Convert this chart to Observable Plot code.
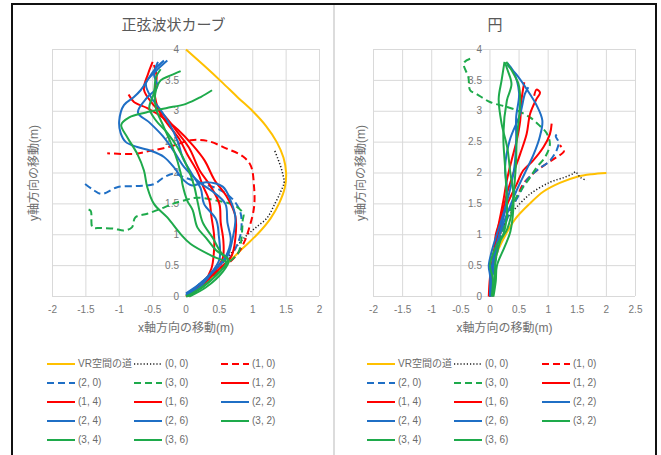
<!DOCTYPE html>
<html>
<head>
<meta charset="utf-8">
<script src="https://cdn.jsdelivr.net/npm/d3@7"></script>
<script src="https://cdn.jsdelivr.net/npm/@observablehq/plot@0.6"></script>
<style>
html,body{margin:0;padding:0;background:#fff;}
body{position:relative;width:661px;height:455px;overflow:hidden;font-family:"Liberation Sans","Noto Sans CJK JP",sans-serif;color:#6b6b6b;}
.frame{position:absolute;left:11px;top:3px;width:646px;height:470px;border:2px solid #111;border-bottom:none;box-sizing:border-box;}
.divider{position:absolute;left:333px;top:5px;width:2px;height:460px;background:#dcdcdc;}
.title{position:absolute;top:13px;height:22px;line-height:22px;text-align:center;font-size:15px;color:#595959;font-family:"Noto Sans CJK JP",sans-serif;}
.chart{position:absolute;top:36px;}
.item{position:absolute;height:14px;line-height:14px;font-size:10px;white-space:nowrap;display:flex;align-items:center;color:#6b6b6b;}
.item svg{margin-right:3px;display:block;}
</style>
</head>
<body>
<div class="frame"></div>
<div class="divider"></div>
<div class="title" style="left:14px;width:319px">正弦波状カーブ</div>
<div class="title" style="left:335px;width:320px">円</div>
<div class="chart" id="c1" style="left:14px"></div>
<div class="chart" id="c2" style="left:335px"></div>
<div id="lg1"></div>
<div id="lg2"></div>
<script>
// ---------- series / legend ----------
const seriesNames = ["VR空間の道","(0, 0)","(1, 0)","(2, 0)","(3, 0)","(1, 2)","(1, 4)","(1, 6)","(2, 2)","(2, 4)","(2, 6)","(3, 2)","(3, 4)","(3, 6)"];
const seriesColors = ["#FFC000","#1a1a1a","#FF0000","#1F6FC5","#1EAA4B","#FF0000","#FF0000","#FF0000","#1F6FC5","#1F6FC5","#1F6FC5","#1EAA4B","#1EAA4B","#1EAA4B"];
const seriesDash = ["solid","dot","dash","dash","dash","solid","solid","solid","solid","solid","solid","solid","solid","solid"];

// ---------- ticks ----------
const yTicks = [0,0.5,1,1.5,2,2.5,3,3.5,4];
const sineXTicks = [-2,-1.5,-1,-0.5,0,0.5,1,1.5,2];
const circleXTicks = [-2,-1.5,-1,-0.5,0,0.5,1,1.5,2,2.5];

// ---------- 正弦波状カーブ ----------
const sineVR = [[0,0],[0.3,0.25],[0.6,0.52],[0.85,0.78],[1.08,1.02],[1.27,1.27],[1.4,1.52],[1.48,1.76],[1.5,2.0],[1.46,2.25],[1.36,2.5],[1.2,2.76],[1.0,3.0],[0.78,3.22],[0.53,3.48],[0.27,3.74],[0,4]];
const sine00 = [[0.02,0.02],[0.3,0.3],[0.58,0.58],[0.75,0.8],[0.9,0.98],[1.05,1.12],[1.22,1.28],[1.33,1.5],[1.42,1.7],[1.47,1.85],[1.45,1.98],[1.42,2.1],[1.38,2.22],[1.33,2.36]];
const sine10 = [[0.02,0],[0.3,0.25],[0.6,0.5],[0.78,0.7],[0.88,0.9],[0.95,1.12],[1.02,1.45],[1.02,1.77],[0.97,2.12],[0.85,2.27],[0.6,2.4],[0.32,2.52],[0.07,2.53],[-0.23,2.43],[-0.53,2.36],[-0.78,2.31],[-1.18,2.32]];
const sine20 = [[0,0.02],[0.3,0.28],[0.6,0.55],[0.75,0.8],[0.82,1.02],[0.82,1.34],[0.72,1.55],[0.52,1.72],[0.22,1.84],[-0.03,1.93],[-0.18,1.99],[-0.33,1.93],[-0.48,1.82],[-0.73,1.79],[-1.03,1.77],[-1.26,1.66],[-1.38,1.72],[-1.52,1.83]];
const sine30 = [[0.02,0],[0.3,0.25],[0.6,0.52],[0.78,0.7],[0.82,0.85],[0.84,1.05],[0.85,1.24],[0.86,1.34],[0.72,1.48],[0.47,1.55],[0.17,1.6],[-0.05,1.55],[-0.2,1.5],[-0.38,1.42],[-0.58,1.34],[-0.76,1.28],[-0.81,1.12],[-0.93,1.07],[-1.08,1.1],[-1.28,1.11],[-1.4,1.12],[-1.43,1.39],[-1.51,1.42]];
const sine12 = [[0,0],[0.25,0.2],[0.5,0.45],[0.68,0.65],[0.74,0.95],[0.74,1.3],[0.62,1.6],[0.42,1.9],[0.28,2.2],[0.1,2.45],[-0.12,2.7],[-0.35,2.9],[-0.58,3.05],[-0.78,3.15],[-0.86,3.27]];
const sine14 = [[0.02,0],[0.22,0.15],[0.42,0.4],[0.55,0.62],[0.56,0.9],[0.52,1.2],[0.5,1.5],[0.36,1.8],[0.2,2.05],[0.05,2.4],[-0.12,2.65],[-0.3,2.9],[-0.5,3.12],[-0.63,3.35],[-0.57,3.6],[-0.5,3.8]];
const sine16 = [[0.05,0],[0.25,0.2],[0.38,0.45],[0.42,0.75],[0.42,1.0],[0.38,1.3],[0.35,1.55],[0.25,1.8],[0.18,2.0],[0.02,2.3],[-0.1,2.55],[-0.28,2.8],[-0.4,3.0],[-0.47,3.3],[-0.44,3.55],[-0.48,3.75]];
const sine22 = [[0,0.05],[0.2,0.2],[0.45,0.45],[0.62,0.65],[0.7,0.95],[0.74,1.28],[0.67,1.55],[0.55,1.78],[0.3,1.85],[0.08,1.8],[-0.03,1.88],[-0.18,2.09],[-0.33,2.26],[-0.53,2.36],[-0.73,2.42],[-0.9,2.5],[-0.98,2.65],[-1.0,2.85],[-0.93,3.1],[-0.78,3.23],[-0.68,3.34],[-0.55,3.55],[-0.45,3.7],[-0.33,3.82]];
const sine24 = [[0.02,0],[0.15,0.15],[0.35,0.35],[0.5,0.6],[0.49,1.0],[0.45,1.25],[0.27,1.5],[0.22,1.75],[0.08,2.0],[-0.05,2.25],[-0.12,2.5],[-0.25,2.8],[-0.4,3.05],[-0.52,3.22],[-0.6,3.45],[-0.45,3.65],[-0.28,3.82]];
const sine26 = [[0,0.03],[0.2,0.15],[0.4,0.4],[0.58,0.62],[0.67,0.9],[0.62,1.2],[0.59,1.5],[0.4,1.7],[0.2,1.85],[-0.03,2.1],[-0.18,2.35],[-0.35,2.6],[-0.55,2.82],[-0.72,2.98],[-0.6,3.2],[-0.43,3.4],[-0.48,3.6],[-0.42,3.8]];
const sine32 = [[0,0],[0.25,0.15],[0.5,0.4],[0.6,0.55],[0.42,0.64],[0.07,0.85],[-0.08,1.01],[-0.28,1.28],[-0.48,1.5],[-0.58,1.77],[-0.63,2.04],[-0.73,2.31],[-0.88,2.58],[-0.97,2.78],[-0.85,2.9],[-0.6,2.98],[-0.3,3.05],[0.0,3.12],[0.22,3.23],[0.39,3.34]];
const sine34 = [[0.02,0],[0.3,0.2],[0.55,0.45],[0.62,0.6],[0.45,0.75],[0.3,0.95],[0.17,1.12],[0.1,1.4],[0.02,1.55],[-0.05,1.8],[-0.08,2.0],[-0.18,2.36],[-0.33,2.74],[-0.45,3.05],[-0.46,3.29],[-0.38,3.5],[-0.23,3.58],[-0.08,3.65]];
const sine36 = [[0.05,0],[0.3,0.15],[0.55,0.4],[0.64,0.58],[0.52,0.72],[0.4,0.95],[0.25,1.2],[0.18,1.5],[0.12,1.8],[0.02,2.1],[-0.12,2.4],[-0.28,2.65],[-0.45,2.85],[-0.55,3.05],[-0.48,3.3],[-0.45,3.55],[-0.38,3.68]];

// ---------- 円 ----------
const circVR = [[0,0],[0.02,0.3],[0.06,0.5],[0.14,0.75],[0.27,1.0],[0.43,1.25],[0.68,1.5],[0.92,1.7],[1.2,1.84],[1.5,1.94],[1.75,1.98],[2.0,2.0]];
const circ00 = [[0,0],[0.06,0.5],[0.18,1.0],[0.32,1.3],[0.46,1.45],[0.69,1.66],[1.03,1.85],[1.28,1.93],[1.43,1.99],[1.47,2.02],[1.55,1.93],[1.66,1.88]];
const circ10 = [[0,0],[0.06,0.5],[0.18,1.0],[0.32,1.35],[0.46,1.6],[0.57,1.82],[0.74,1.99],[0.97,2.15],[1.15,2.26],[1.27,2.35],[1.2,2.45]];
const circ20 = [[0,0],[0.08,0.5],[0.2,1.0],[0.36,1.4],[0.5,1.65],[0.63,1.88],[0.8,2.04],[1.03,2.2],[1.15,2.38],[1.18,2.5],[1.13,2.6],[1.2,2.66]];
const circ30 = [[0,0],[0.05,0.5],[0.18,1.0],[0.32,1.35],[0.45,1.6],[0.57,1.77],[0.69,1.93],[0.8,2.09],[0.95,2.26],[1.03,2.47],[0.97,2.65],[0.86,2.76],[0.69,2.9],[0.45,3.02],[0.29,3.07],[0,3.15],[-0.23,3.28],[-0.34,3.34],[-0.37,3.55],[-0.45,3.78],[-0.34,3.85]];
const circ12 = [[0,0],[0.02,0.3],[0.08,0.6],[0.12,0.9],[0.2,1.2],[0.3,1.5],[0.46,1.82],[0.57,2.04],[0.74,2.2],[0.92,2.42],[1.03,2.63],[1.06,2.8]];
const circ14 = [[-0.02,0],[0,0.3],[0.06,0.69],[0.14,1.12],[0.23,1.55],[0.29,1.88],[0.37,2.2],[0.46,2.53],[0.52,2.85],[0.54,3.17],[0.59,3.47]];
const circ16 = [[0.05,0],[0.03,0.35],[0.08,0.7],[0.1,1.0],[0.2,1.3],[0.29,1.66],[0.4,1.99],[0.52,2.31],[0.63,2.63],[0.69,2.96],[0.8,3.2],[0.86,3.3],[0.8,3.35],[0.76,3.25]];
const circ22 = [[0,0],[0.02,0.4],[0.1,0.8],[0.2,1.1],[0.32,1.4],[0.45,1.7],[0.6,2.0],[0.75,2.3],[0.86,2.6],[0.9,2.85],[0.8,3.1],[0.63,3.36],[0.45,3.6],[0.3,3.75]];
const circ24 = [[0.02,0],[0.05,0.4],[0.12,0.8],[0.2,1.15],[0.28,1.5],[0.29,1.77],[0.26,2.09],[0.34,2.53],[0.52,2.96],[0.6,3.28],[0.66,3.39]];
const circ26 = [[0.03,0],[0,0.35],[-0.02,0.5],[0.05,0.8],[0.15,1.1],[0.25,1.4],[0.35,1.75],[0.42,2.1],[0.45,2.5],[0.45,2.9],[0.5,3.3],[0.4,3.65],[0.3,3.78]];
const circ32 = [[0.03,0],[0.05,0.3],[0,0.5],[0.1,0.8],[0.23,1.01],[0.29,1.3],[0.29,1.55],[0.26,2.09],[0.23,2.63],[0.29,3.17],[0.37,3.44],[0.29,3.7],[0.26,3.79]];
const circ34 = [[0.05,0],[0.08,0.3],[0.1,0.6],[0.18,0.9],[0.3,1.1],[0.38,1.4],[0.42,1.8],[0.45,2.2],[0.46,2.53],[0.52,3.17],[0.49,3.44],[0.38,3.65],[0.28,3.8]];
const circ36 = [[0.06,0],[0.1,0.25],[0.12,0.5],[0.25,0.8],[0.35,1.05],[0.4,1.4],[0.4,1.7],[0.35,2.0],[0.3,2.4],[0.2,2.8],[0.15,3.2],[0.2,3.5],[0.25,3.8]];

const sinePaths = [sineVR,sine00,sine10,sine20,sine30,sine12,sine14,sine16,sine22,sine24,sine26,sine32,sine34,sine36];
const circPaths = [circVR,circ00,circ10,circ20,circ30,circ12,circ14,circ16,circ22,circ24,circ26,circ32,circ34,circ36];

const xTitle = "x軸方向の移動(m)";
const yTitle = "y軸方向の移動(m)";
const fmt = d => String(d);
const dashArr = {solid: null, dash: "7 4", dot: "1.2 2"};

function makeChart(paths, xDomain, xTicks, width, mL, mR, yTitleDx, yLabDx) {
  const lineMarks = paths.map((p, i) => Plot.line(p, {
    x: d => d[0], y: d => d[1],
    stroke: seriesColors[i],
    strokeWidth: seriesDash[i] === "dot" ? 1.5 : 2,
    strokeDasharray: dashArr[seriesDash[i]],
    strokeLinecap: "butt",
    curve: "catmull-rom"
  }));
  return Plot.plot({
    width, height: 300,
    marginLeft: mL, marginRight: mR, marginTop: 13, marginBottom: 40,
    x: {domain: xDomain},
    y: {domain: [0, 4], axis: null},
    style: {fontFamily: '"Liberation Sans","Noto Sans CJK JP",sans-serif', color: "#777", background: "transparent", overflow: "visible"},
    marks: [
      Plot.gridX(xTicks, {stroke: "#d9d9d9", strokeOpacity: 1}),
      Plot.gridY(yTicks, {stroke: "#d9d9d9", strokeOpacity: 1}),
      Plot.axisX(xTicks, {tickSize: 0, tickPadding: 9, tickFormat: fmt, label: null, fontSize: 10}),
      Plot.text(yTicks, {x: 0, y: d => d, text: fmt, textAnchor: "end", dx: yLabDx, fontSize: 10, fill: "#777"}),
      Plot.text([xTitle], {text: d => d, frameAnchor: "bottom", lineAnchor: "middle", textAnchor: "middle", dy: 32, fontSize: 12, fill: "#707070"}),
      Plot.text([yTitle], {text: d => d, frameAnchor: "left", rotate: -90, textAnchor: "middle", lineAnchor: "middle", dx: yTitleDx, fontSize: 12, fill: "#707070"}),
      ...lineMarks
    ]
  });
}

document.getElementById("c1").appendChild(makeChart(sinePaths, [-2, 2], sineXTicks, 319, 38, 14, -18, -7));
document.getElementById("c2").appendChild(makeChart(circPaths, [-2, 2.5], circleXTicks, 320, 38, 20, -12, -8));

function makeLegend(el, colX, rowY) {
  seriesNames.forEach((name, i) => {
    const row = Math.floor(i / 3), col = i % 3;
    const div = document.createElement("div");
    div.className = "item";
    div.style.left = colX[col] + "px";
    div.style.top = (rowY[row] - 7) + "px";
    const ns = "http://www.w3.org/2000/svg";
    const svg = document.createElementNS(ns, "svg");
    svg.setAttribute("width", 28); svg.setAttribute("height", 14);
    const ln = document.createElementNS(ns, "line");
    ln.setAttribute("x1", 0); ln.setAttribute("x2", 28);
    ln.setAttribute("y1", 7); ln.setAttribute("y2", 7);
    ln.setAttribute("stroke", seriesColors[i]);
    ln.setAttribute("stroke-width", seriesDash[i] === "dot" ? 1.5 : 2);
    if (dashArr[seriesDash[i]]) ln.setAttribute("stroke-dasharray", dashArr[seriesDash[i]]);
    svg.appendChild(ln);
    div.appendChild(svg);
    const sp = document.createElement("span");
    sp.textContent = name;
    div.appendChild(sp);
    el.appendChild(div);
  });
}
const legendRows = [364, 383, 402, 421, 440];
makeLegend(document.getElementById("lg1"), [47, 134, 221], legendRows);
makeLegend(document.getElementById("lg2"), [367, 454, 542], legendRows);
</script>
</body>
</html>
